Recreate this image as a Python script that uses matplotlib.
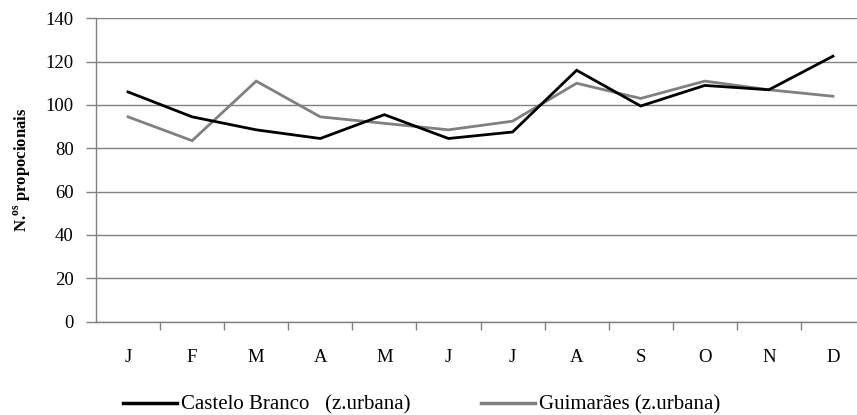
import matplotlib
matplotlib.use("Agg")
import matplotlib.pyplot as plt
from matplotlib.lines import Line2D
import numpy as np

months = ["J", "F", "M", "A", "M", "J", "J", "A", "S", "O", "N", "D"]
castelo_branco = [106, 94.5, 88.5, 84.5, 95.5, 84.5, 87.5, 116, 99.5, 109, 107, 122.5]
guimaraes = [94.5, 83.5, 111, 94.5, 91.5, 88.5, 92.5, 110, 103, 111, 107, 104]
yticks = [0, 20, 40, 60, 80, 100, 120, 140]

plt.rcParams['font.family'] = ['Liberation Serif', 'DejaVu Serif']
plt.rcParams['mathtext.fontset'] = 'custom'
plt.rcParams['mathtext.rm'] = 'Liberation Serif'
plt.rcParams['mathtext.bf'] = 'Liberation Serif:bold'

W, H = 857, 415
fig = plt.figure(figsize=(W / 100, H / 100), dpi=100)
left, right, top, bottom = 96, 865, 18.3, 321.5
ax = fig.add_axes([left / W, 1 - bottom / H, (right - left) / W, (bottom - top) / H])

x = np.arange(len(months))
ax.plot(x, castelo_branco, color='black', lw=2.0, solid_joinstyle='miter', zorder=3)
ax.plot(x, guimaraes, color='#808080', lw=2.0, solid_joinstyle='miter', zorder=2)

ax.set_xlim(-0.5, len(months) - 0.5)
ax.set_ylim(0, 140)
ax.set_yticks(yticks)
ax.set_yticklabels([str(v) for v in yticks], fontsize=13.5)
ax.yaxis.grid(True, color='#808080', lw=1.0)
ax.set_axisbelow(True)
ax.tick_params(axis='y', length=7, width=1, color='#808080', pad=9)

ax.set_xticks(x)
ax.set_xticklabels(months, fontsize=13.5)
ax.tick_params(axis='x', which='major', length=0, pad=20)
ax.set_xticks(np.arange(0.5, len(months) - 0.5, 1), minor=True)
ax.tick_params(axis='x', which='minor', length=6, width=1, color='#808080')

for s in ['top', 'right']:
    ax.spines[s].set_visible(False)
for s in ['left', 'bottom']:
    ax.spines[s].set_color('#808080')
    ax.spines[s].set_linewidth(1.0)

ax.set_ylabel(r'N.$^{\mathbf{os}}$ propocionais', fontsize=12, fontweight='bold', labelpad=9)

leg_y = 1 - 405 / H
leg1 = fig.legend([Line2D([], [], color='black', lw=2.5)], ['Castelo Branco   (z.urbana)'],
                  loc='center left', bbox_to_anchor=(123 / W, leg_y), frameon=False,
                  fontsize=15, handlelength=2.6, handletextpad=0.2, borderpad=0, borderaxespad=0)
leg2 = fig.legend([Line2D([], [], color='#808080', lw=2.5)], ['Guimarães (z.urbana)'],
                  loc='center left', bbox_to_anchor=(481 / W, leg_y), frameon=False,
                  fontsize=15, handlelength=2.6, handletextpad=0.2, borderpad=0, borderaxespad=0)

fig.savefig('out.png', dpi=100)
